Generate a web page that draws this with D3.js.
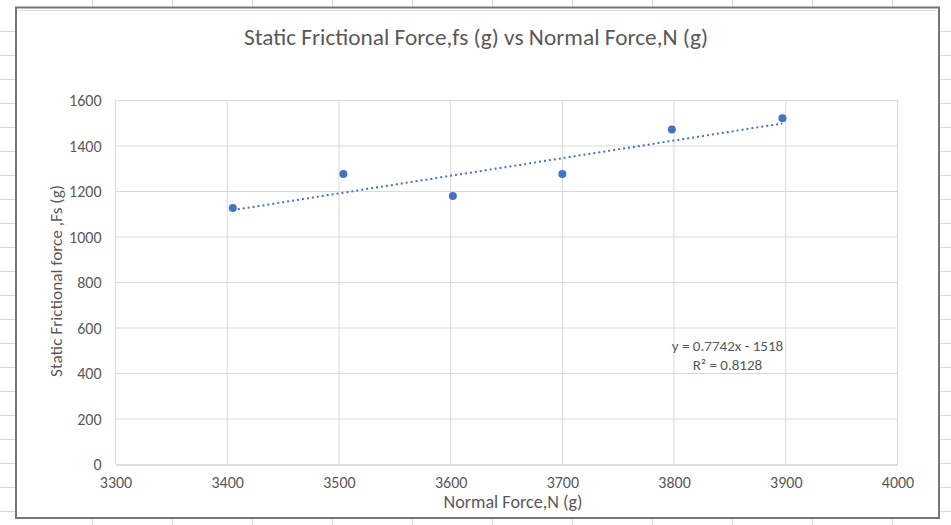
<!DOCTYPE html>
<html>
<head>
<meta charset="utf-8">
<script src="https://cdn.jsdelivr.net/npm/d3@7"></script>
<style>
  html, body { margin: 0; padding: 0; background: #fff; }
  svg { display: block; }
  text { font-family: Carlito, Calibri, Lato, "Open Sans", sans-serif; fill: #595959; }
</style>
</head>
<body>
<svg id="chart" width="951" height="525"></svg>
<script>
// ---- data ----
const normalForce = [3405, 3504, 3602, 3700, 3798, 3897];
const staticFriction = [1128, 1277, 1180, 1277, 1473, 1522];
const xTicks = [3300, 3400, 3500, 3600, 3700, 3800, 3900, 4000];
const yTicks = [0, 200, 400, 600, 800, 1000, 1200, 1400, 1600];
const trendSlope = [0.7742];
const trendIntercept = [-1518];
const equationLines = ["y = 0.7742x - 1518", "R² = 0.8128"];
const titleText = "Static Frictional Force,fs (g) vs Normal Force,N (g)";
const xTitle = "Normal Force,N (g)";
const yTitle = "Static Frictional force ,Fs (g)";

const W = 951, H = 525;
const FONT = "Carlito, Calibri, Lato, 'Open Sans', sans-serif";
const svg = d3.select("#chart");

// spreadsheet background grid
const bg = svg.append("g");
bg.append("rect").attr("width", W).attr("height", H).attr("fill", "#ffffff");
d3.range(92.5, W, 80).forEach(x => bg.append("line")
  .attr("x1", x).attr("x2", x).attr("y1", 0).attr("y2", H)
  .attr("stroke", "#dadada").attr("stroke-width", 1));
d3.range(31.5, H, 24).forEach(y => bg.append("line")
  .attr("x1", 0).attr("x2", W).attr("y1", y).attr("y2", y)
  .attr("stroke", "#dadada").attr("stroke-width", 1));

// chart area
svg.append("rect").attr("x", 16).attr("y", 7.5).attr("width", 923).attr("height", 510.5)
  .attr("fill", "#ffffff").attr("stroke", "#767676").attr("stroke-width", 2);
svg.append("line").attr("x1", 19).attr("x2", 936).attr("y1", 10.5).attr("y2", 10.5)
  .attr("stroke", "#d9d9d9").attr("stroke-width", 1);

const x = d3.scaleLinear().domain([3300, 4000]).range([115.5, 897.5]);
const y = d3.scaleLinear().domain([0, 1600]).range([464.5, 100.5]);

function fitSize(sel, target) {
  const fs = parseFloat(sel.attr("font-size"));
  const w = sel.node().getComputedTextLength();
  return w > 0 ? fs * target / w : fs;
}
function fitText(sel, target) { sel.attr("font-size", fitSize(sel, target)); }

// gridlines
const grid = svg.append("g");
grid.selectAll(".hg").data(yTicks.filter(d => d > 0)).join("line")
  .attr("x1", x(3300)).attr("x2", x(4000))
  .attr("y1", d => y(d)).attr("y2", d => y(d))
  .attr("stroke", "#d9d9d9").attr("stroke-width", 1);
grid.selectAll(".vg").data(xTicks).join("line")
  .attr("x1", d => x(d)).attr("x2", d => x(d))
  .attr("y1", y(0)).attr("y2", y(1600))
  .attr("stroke", "#d9d9d9").attr("stroke-width", 1);

// x axis (line + labels)
const xAxis = d3.axisBottom(x).tickValues(xTicks).tickSize(0).tickPadding(0).tickFormat(d3.format("d"));
const gx = svg.append("g").attr("transform", `translate(0,${y(0)})`).call(xAxis)
  .attr("font-family", FONT).attr("font-size", 12.8);
gx.select(".domain").attr("stroke", "#bfbfbf").attr("stroke-width", 1);
const tickFs = fitSize(gx.select(".tick text"), 30);
gx.attr("font-size", tickFs);
gx.selectAll("text").attr("fill", "#595959").attr("dy", null).attr("y", 23);

// y axis labels
const yAxis = d3.axisLeft(y).tickValues(yTicks).tickSize(0).tickPadding(14).tickFormat(d3.format("d"));
const gy = svg.append("g").attr("transform", `translate(${x(3300)},0)`).call(yAxis)
  .attr("font-family", FONT).attr("font-size", tickFs);
gy.select(".domain").remove();
gy.selectAll("text").attr("fill", "#595959");

// trendline
const xmin = d3.min(normalForce), xmax = d3.max(normalForce);
const tl = [xmin, xmax].map(v => [v, trendSlope[0] * v + trendIntercept[0]]);
svg.append("path").datum(tl)
  .attr("d", d3.line().x(d => x(d[0])).y(d => y(d[1])))
  .attr("fill", "none").attr("stroke", "#4472c4").attr("stroke-width", 2)
  .attr("stroke-dasharray", "2 3");

// points
svg.append("g").selectAll("circle").data(normalForce.map((v, i) => [v, staticFriction[i]])).join("circle")
  .attr("cx", d => x(d[0])).attr("cy", d => y(d[1])).attr("r", 4)
  .attr("fill", "#4472c4");

// title
const t = svg.append("text").attr("x", 476).attr("y", 44.5).attr("text-anchor", "middle")
  .attr("font-size", 18.7).text(titleText);
fitText(t, 464);

// axis titles
const xt = svg.append("text").attr("x", 513).attr("y", 507.5).attr("text-anchor", "middle")
  .attr("font-size", 14).text(xTitle);
fitText(xt, 139);
const yt = svg.append("text").attr("transform", "translate(62,281) rotate(-90)")
  .attr("text-anchor", "middle").attr("font-size", 14).text(yTitle);
fitText(yt, 192);

// equation
const eq = svg.append("g");
equationLines.forEach((s, i) => {
  const e = eq.append("text").attr("x", 727.5).attr("y", 350.5 + i * 19.5)
    .attr("text-anchor", "middle").attr("font-size", 12.8).text(s);
  fitText(e, i === 0 ? 111.5 : 69.5);
});
</script>
</body>
</html>
